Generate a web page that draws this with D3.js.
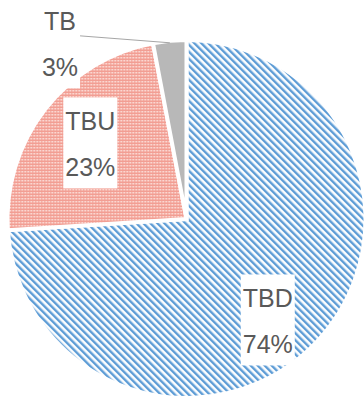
<!DOCTYPE html>
<html>
<head>
<meta charset="utf-8">
<script src="https://cdn.jsdelivr.net/npm/d3@7"></script>
<style>
  html, body { margin: 0; padding: 0; background: #fff; }
  svg { display: block; }
  text { font-family: "Liberation Sans", Arial, sans-serif; }
</style>
</head>
<body>
<svg id="chart" width="364" height="396"></svg>
<script>
// Share of each category (percent)
const categories = ["TBD", "TBU", "TB"];
const shares = [74, 23, 3];
const shareLabels = ["74%", "23%", "3%"];

const width = 364, height = 396;
const cx = 186.5, cy = 219, radius = 179;
const svg = d3.select("#chart");

// Fill patterns: blue diagonal hatch, pink fine check, solid grey
const defs = svg.append("defs");
const stripeGap = 7 / Math.SQRT2;
const hatch = defs.append("pattern")
  .attr("id", "hatch-blue").attr("patternUnits", "userSpaceOnUse")
  .attr("width", stripeGap).attr("height", 20)
  .attr("patternTransform", "rotate(-45)");
hatch.append("rect").attr("width", stripeGap).attr("height", 20).attr("fill", "#fff");
hatch.append("rect").attr("width", 2.4).attr("height", 20).attr("fill", "#5B9BD5");

const check = defs.append("pattern")
  .attr("id", "check-pink").attr("patternUnits", "userSpaceOnUse")
  .attr("width", 3).attr("height", 3);
check.append("rect").attr("width", 3).attr("height", 3).attr("fill", "#F29E93");
check.append("rect").attr("width", 1.5).attr("height", 1.5).attr("fill", "#FDEAE6");

const fills = d3.scaleOrdinal()
  .domain(categories)
  .range(["url(#hatch-blue)", "url(#check-pink)", "#B8B8B8"]);

const pie = d3.pie().sort(null).value(d => d.value);
const data = categories.map((c, i) => ({ name: c, value: shares[i], label: shareLabels[i] }));
const arcs = pie(data);

const arc = d3.arc().innerRadius(0).outerRadius(radius);

const g = svg.append("g").attr("transform", `translate(${cx},${cy})`);

g.selectAll("path.slice")
  .data(arcs)
  .join("path")
  .attr("class", "slice")
  .attr("d", arc)
  .attr("fill", d => fills(d.data.name))
  .attr("stroke", "#fff")
  .attr("stroke-width", 4)
  .attr("stroke-linejoin", "miter");

// Label placement: distance along the slice bisector, then a nudge
const labelLayout = {
  TBD: { k: 0.73, dx: -14, dy: 13 },
  TBU: { k: 0.68, dx: 0, dy: 0 },
  TB:  { k: 0.98, dx: -110, dy: 0, leader: true }
};

const fontSize = 25;
const textColor = "#595959";

arcs.forEach(d => {
  const lay = labelLayout[d.data.name];
  const mid = (d.startAngle + d.endAngle) / 2;
  const lx = Math.sin(mid) * radius * lay.k + lay.dx;
  const ly = -Math.cos(mid) * radius * lay.k + lay.dy;
  const lg = g.append("g").attr("transform", `translate(${lx},${ly})`);
  const boxRect = lg.append("rect").attr("fill", "#fff");
  const t1 = lg.append("text")
    .attr("text-anchor", "middle").attr("y", -14)
    .attr("font-size", fontSize).attr("fill", textColor)
    .text(d.data.name);
  const t2 = lg.append("text")
    .attr("text-anchor", "middle").attr("y", 32)
    .attr("font-size", fontSize).attr("fill", textColor)
    .text(d.data.label);
  const w = Math.max(t1.node().getComputedTextLength(), t2.node().getComputedTextLength()) + 4;
  boxRect.attr("x", -w / 2).attr("y", -47).attr("width", w).attr("height", 91);

  if (lay.leader) {
    const p = [Math.sin(mid) * (radius - 2), -Math.cos(mid) * (radius - 2)];
    g.append("line")
      .attr("x1", lx + w / 2).attr("y1", ly - 8.5)
      .attr("x2", p[0]).attr("y2", p[1])
      .attr("stroke", "#A6A6A6").attr("stroke-width", 1);
  }
});
</script>
</body>
</html>
